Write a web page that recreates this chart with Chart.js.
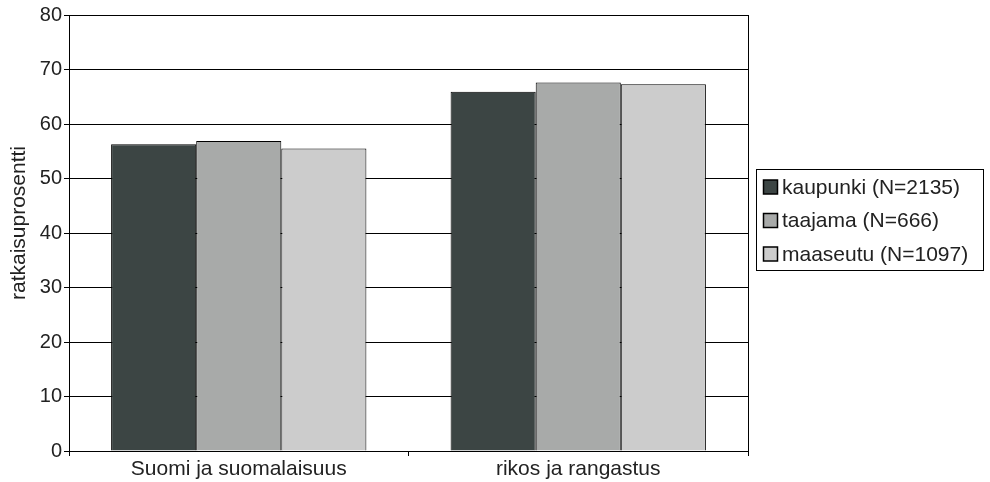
<!DOCTYPE html>
<html><head><meta charset="utf-8">
<script src="https://cdn.jsdelivr.net/npm/chart.js@4/dist/chart.umd.min.js"></script>
<style>html,body{margin:0;padding:0;background:#fff}#wrap{width:990px;height:482px}</style>
</head><body><div id="wrap"><canvas id="c" width="990" height="482"></canvas></div>
<script>
const categories = ["Suomi ja suomalaisuus", "rikos ja rangastus"];
const seriesNames = ["kaupunki (N=2135)", "taajama (N=666)", "maaseutu (N=1097)"];
const kaupunki = [56.3, 65.9];
const taajama = [56.9, 67.6];
const maaseutu = [55.5, 67.3];
const yTicks = [0, 10, 20, 30, 40, 50, 60, 70, 80];
const yTitle = "ratkaisuprosentti";
const colors = ["#3c4544", "#a8aaa9", "#cccccc"];
const FONT = "'Liberation Sans', Arial, sans-serif";

const extras = {
  id: 'extras',
  afterDraw(chart) {
    const ctx = chart.ctx, a = chart.chartArea;
    ctx.save();
    ctx.strokeStyle = '#000'; ctx.lineWidth = 1;
    ctx.beginPath(); ctx.moveTo(Math.round(a.right)+0.5, a.top); ctx.lineTo(Math.round(a.right)+0.5, a.bottom); ctx.stroke();
    ctx.fillStyle = '#222';
    ctx.font = '21px ' + FONT;
    ctx.translate(19, 223); ctx.rotate(-Math.PI/2);
    ctx.textAlign = 'center'; ctx.textBaseline = 'middle';
    ctx.fillText(yTitle, 0, 0);
    ctx.restore();
    ctx.save();
    const bx = 756.5, by = 169.5, bw = 227, bh = 101;
    ctx.strokeStyle = '#000'; ctx.lineWidth = 1;
    ctx.strokeRect(bx, by, bw, bh);
    ctx.font = '21px ' + FONT; ctx.textBaseline = 'middle'; ctx.textAlign = 'left';
    chart.data.datasets.forEach((ds, i) => {
      const cy = 187 + i * 33.5;
      ctx.fillStyle = ds.backgroundColor;
      ctx.fillRect(763.5, cy - 7, 14, 14);
      ctx.strokeStyle = '#000'; ctx.lineWidth = 1.5;
      ctx.strokeRect(763.5, cy - 7, 14, 14);
      ctx.fillStyle = '#222';
      ctx.fillText(ds.label, 782, cy + 1);
    });
    ctx.restore();
  }
};

new Chart(document.getElementById('c'), {
  type: 'bar',
  data: {
    labels: categories,
    datasets: [kaupunki, taajama, maaseutu].map((d, i) => ({
      label: seriesNames[i], data: d, backgroundColor: colors[i],
      borderColor: '#000', borderWidth: 1,
      categoryPercentage: 0.752, barPercentage: 1.0
    }))
  },
  options: {
    responsive: false, animation: false, devicePixelRatio: 1,
    layout: { padding: { top: 15, right: 242, left: 0, bottom: 0 } },
    plugins: { legend: { display: false }, tooltip: { enabled: false } },
    scales: {
      x: {
        grid: { display: true, offset: true, drawOnChartArea: false, color: '#000', tickLength: 5 },
        border: { color: '#000', width: 1 },
        ticks: { color: '#222', font: { family: FONT, size: 21 }, padding: 1, maxRotation: 0 },
        afterFit(s) { s.height = 31; }
      },
      y: {
        min: 0, max: 80,
        afterBuildTicks(s) { s.ticks = yTicks.map(v => ({ value: v })); },
        grid: { color: '#000', tickLength: 5 },
        border: { color: '#000', width: 1 },
        ticks: { color: '#222', font: { family: FONT, size: 20 }, padding: 2 },
        afterFit(s) { s.width = 69; }
      }
    }
  },
  plugins: [extras]
});
</script></body></html>
